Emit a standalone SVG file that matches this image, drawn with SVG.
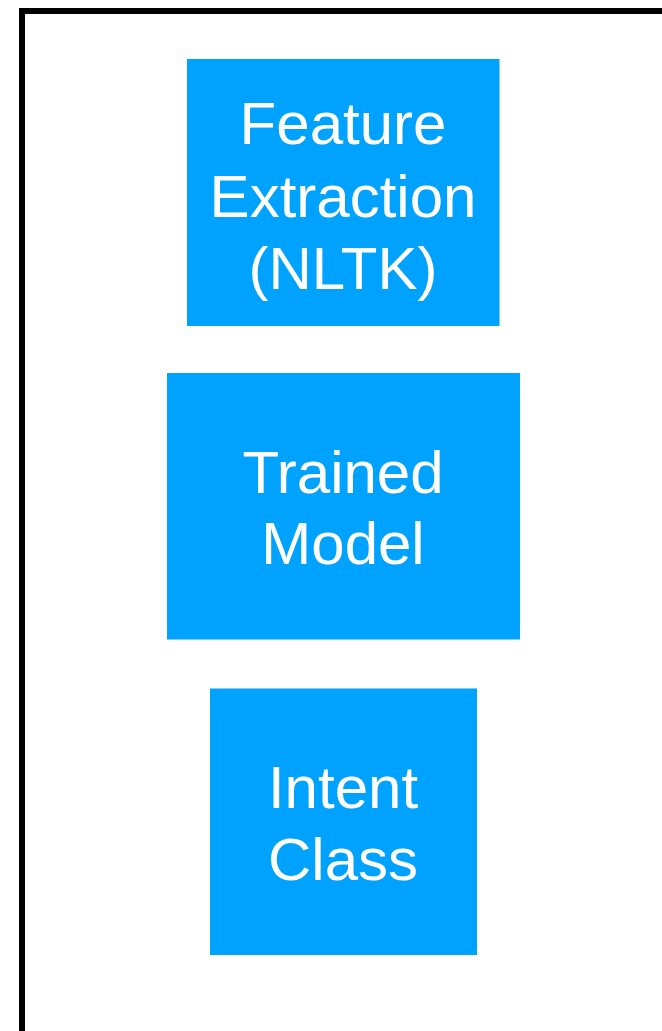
<svg xmlns="http://www.w3.org/2000/svg" width="662" height="1031" viewBox="0 0 662 1031">
<style>
.box{fill:#00A2FF;}
.lbl{font-family:"Liberation Sans",Arial,Helvetica,sans-serif;font-size:60px;fill:#FFFFFF;text-anchor:middle;}
</style>
<rect x="0" y="0" width="662" height="1031" fill="#FFFFFF"/>
<rect x="22" y="11" width="700" height="1100" fill="none" stroke="#000000" stroke-width="6"/>
<g id="feature-extraction">
<rect class="box" x="187" y="59" width="312.5" height="267"/>
<text class="lbl" x="343" y="144">Feature</text>
<text class="lbl" x="343" y="217">Extraction</text>
<text class="lbl" x="343" y="289">(NLTK)</text>
</g>
<g id="trained-model">
<rect class="box" x="167" y="373" width="353" height="266.5"/>
<text class="lbl" x="343" y="493">Trained</text>
<text class="lbl" x="343" y="564">Model</text>
</g>
<g id="intent-class">
<rect class="box" x="210" y="688.5" width="267" height="266.5"/>
<text class="lbl" x="343" y="808">Intent</text>
<text class="lbl" x="343" y="880">Class</text>
</g>
<g id="connectors"></g>
</svg>
